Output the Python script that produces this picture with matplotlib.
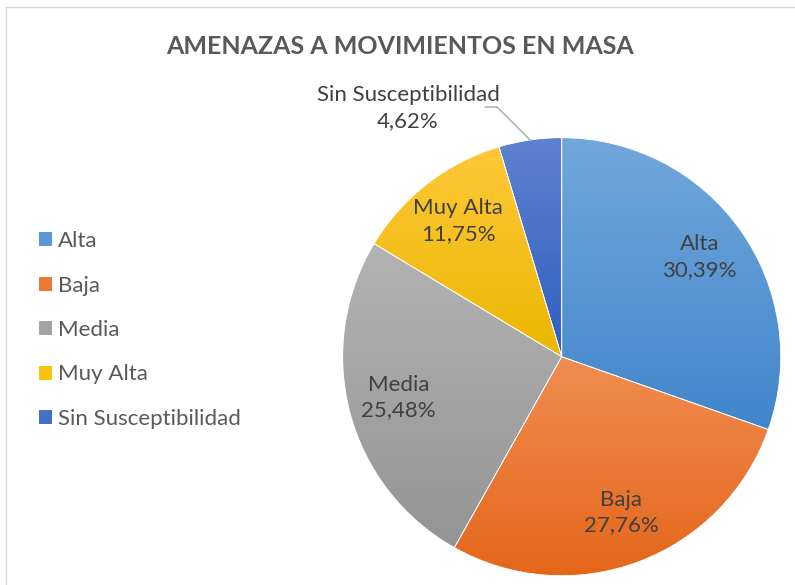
import numpy as np
import matplotlib
matplotlib.use("Agg")
import matplotlib.pyplot as plt
from matplotlib.patches import Patch, Rectangle
from matplotlib.colors import to_rgb

categories = ["Alta", "Baja", "Media", "Muy Alta", "Sin Susceptibilidad"]
values = [30.39, 27.76, 25.48, 11.75, 4.62]
value_labels = ["30,39%", "27,76%", "25,48%", "11,75%", "4,62%"]
title = "AMENAZAS A MOVIMIENTOS EN MASA"

top_colors = ["#72A7DC", "#F08D52", "#B3B3B3", "#FFC839", "#5E82CF"]
bottom_colors = ["#4186CB", "#E4661A", "#949494", "#EAB700", "#2F5EBF"]
legend_colors = ["#5898D6", "#ED7A33", "#A3A3A3", "#F8C210", "#4470C8"]

FONT = "Lato"
W, H = 795, 585
fig = plt.figure(figsize=(W / 100, H / 100), dpi=100)
fig.patch.set_facecolor("white")

# chart frame
fig.patches.append(Rectangle((6 / W, -0.05), 1.2, (H - 7) / H + 0.05,
                             transform=fig.transFigure, fill=False,
                             edgecolor="#D9D9D9", linewidth=1.0))

cx, cy, R = 561.7, 356.7, 219.0
ax = fig.add_axes([(cx - R) / W, (H - cy - R) / H, 2 * R / W, 2 * R / H])
wedges, _ = ax.pie(values, startangle=90, counterclock=False, radius=1,
                   wedgeprops=dict(edgecolor="white", linewidth=0.6))
ax.set_xlim(-1, 1)
ax.set_ylim(-1, 1)
ax.set_aspect("equal")
ax.axis("off")

t = np.linspace(0, 1, 256)[:, None]
for w, tc, bc in zip(wedges, top_colors, bottom_colors):
    bb = w.get_path().get_extents()
    c0, c1 = np.array(to_rgb(tc)), np.array(to_rgb(bc))
    img = (c0[None, None, :] * (1 - t[..., None]) + c1[None, None, :] * t[..., None])
    img = np.repeat(img, 2, axis=1)
    im = ax.imshow(img, extent=(bb.x0, bb.x1, bb.y0, bb.y1), origin="upper",
                   zorder=0.5, interpolation="bilinear", aspect="auto")
    im.set_clip_path(w)
    w.set_facecolor("none")
    w.set_zorder(1)
ax.set_xlim(-1, 1)
ax.set_ylim(-1, 1)
ax.set_aspect("equal")

total = sum(values)
cum = 0.0
for i, (cat, v, lab) in enumerate(zip(categories, values, value_labels)):
    mid = np.deg2rad(90 - (cum + v / 2) / total * 360)
    cum += v
    if i < 4:
        r = 0.77
        ax.text(r * np.cos(mid), r * np.sin(mid) + 0.01, f"{cat}\n{lab}", ha="center",
                va="center", fontsize=16, family=FONT, color="#404040",
                linespacing=1.35, zorder=3)
    else:
        ex, ey = np.cos(mid), np.sin(mid)
        # leader line
        ax.annotate("", xy=(ex, ey), xytext=(-45, 33), textcoords="offset pixels",
                    annotation_clip=False,
                    arrowprops=dict(arrowstyle="-", color="#A6A6A6", lw=1.0,
                                    shrinkA=0, shrinkB=0,
                                    connectionstyle="angle,angleA=0,angleB=135,rad=0"))
        ax.annotate(f"{cat}\n{lab}", xy=(ex, ey), xytext=(-122, 32),
                    textcoords="offset pixels", ha="center", va="center",
                    fontsize=16, family=FONT, color="#404040", linespacing=1.35,
                    annotation_clip=False)

fig.text(400 / W, 1 - 47 / H, title, ha="center", va="center", fontsize=18,
         fontweight="bold", family=FONT, color="#595959")

handles = [Patch(facecolor=c, edgecolor="none") for c in legend_colors]
fig.legend(handles, categories, loc="center left", bbox_to_anchor=(30 / W, 1 - 330 / H),
           frameon=False, prop=dict(family=FONT, size=16), labelcolor="#595959",
           handlelength=0.6, handleheight=0.6, handletextpad=0.25,
           labelspacing=1.1, borderaxespad=0)

fig.savefig("out.png", dpi=100)
